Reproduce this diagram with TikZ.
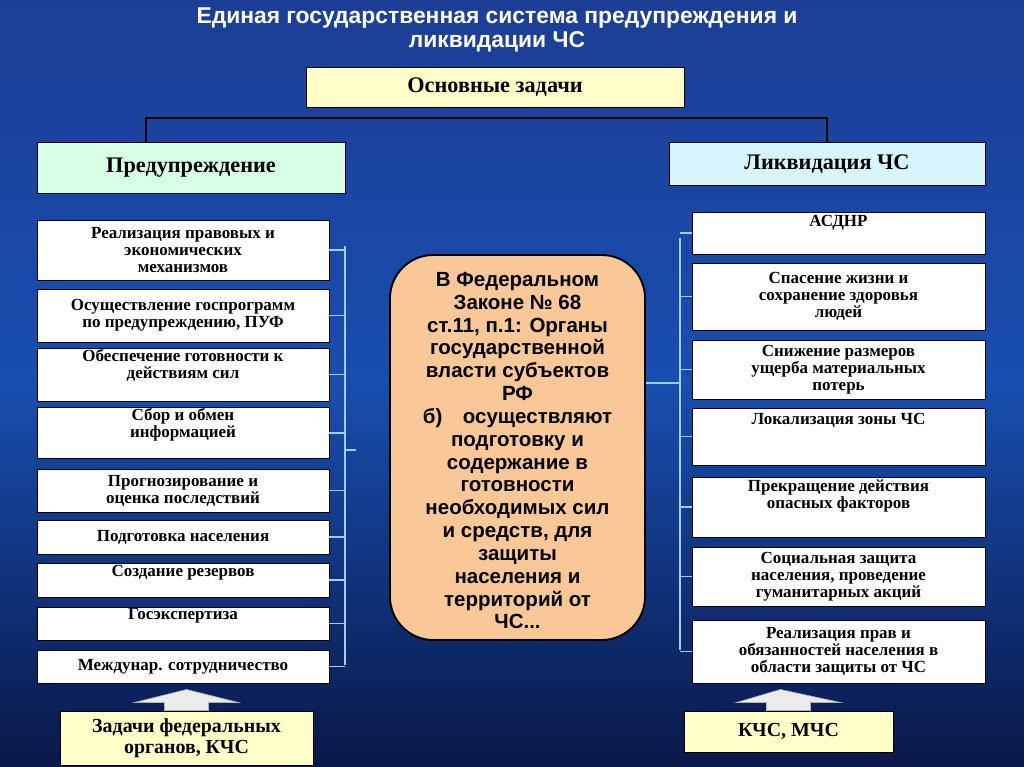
\documentclass[tikz,border=0pt]{standalone}
\usepackage{fontspec}
\setmainfont{Liberation Serif}
\newfontfamily\titlefont{Liberation Sans}
\usetikzlibrary{positioning,calc}
\definecolor{bgtop}{RGB}{28,62,150}
\definecolor{bgmid}{RGB}{24,78,175}
\definecolor{bgbot}{RGB}{10,24,72}
\definecolor{note}{RGB}{255,255,200}
\definecolor{mint}{RGB}{215,255,230}
\definecolor{cyanbox}{RGB}{215,245,255}
\definecolor{peach}{RGB}{250,200,150}
\definecolor{wire}{RGB}{160,205,240}
\tikzset{
    taskbox/.style={draw=black, fill=white, line width=0.6pt, minimum width=8.76cm,
        align=center, inner sep=1pt, font=\bfseries\fontsize{14.5}{14.5}\selectfont},
    headbox/.style={draw=black, line width=0.8pt, align=center, font=\bfseries\fontsize{19}{20}\selectfont},
    wirestyle/.style={draw=wire, line width=1pt},
    uparrow/.style={draw=gray!60, fill=white!85!gray, line width=0.6pt},
}
\begin{document}
\begin{tikzpicture}[x=0.03cm,y=-0.03cm]
	\shade[top color=bgtop, bottom color=bgbot, middle color=bgmid] (0,0) rectangle (1024,767);
	\useasboundingbox (0,0) rectangle (1024,767);
	% title
	\node[text=white, align=center, font=\titlefont\bfseries\fontsize{19.5}{20}\selectfont] (title) at (497,30)
		{Единая государственная система предупреждения и\\ликвидации ЧС};
	% heads
	\node[headbox, fill=note, minimum width=11.34cm, minimum height=1.2cm] (main) at (495,87) {Основные задачи};
	\node[headbox, fill=mint, minimum width=9.24cm, minimum height=1.53cm] (prev) at (191,168) {Предупреждение};
	\node[headbox, fill=cyanbox, minimum width=9.48cm, minimum height=1.29cm] (liq) at (827,164) {Ликвидация ЧС};
	\coordinate (lt) at (146,118);
	\coordinate (rt) at (827,118);
	\draw[line width=1pt, black] (prev.north -| lt) -- (lt) -- (rt) -- (liq.north);
	% left column
	\foreach \name/\top/\bot/\txt in {
		l1/220/280/{Реализация правовых и\\экономических\\механизмов},
		l2/289/342/{Осуществление госпрограмм\\по предупреждению, ПУФ},
		l3/349/400/{Обеспечение готовности к\\действиям сил\\[4pt]},
		l4/409/457/{Сбор и обмен\\информацией\\[2pt]},
		l5/469/512/{Прогнозирование и\\оценка последствий},
		l6/520/554/{Подготовка населения},
		l7/563/597/{Создание резервов\\[1pt]},
		l8/607/640/{Госэкспертиза\\[2pt]},
		l9/650/683/{Междунар. сотрудничество}}
	{
		\node[taskbox, minimum height={(\bot-\top)*0.03cm}] (\name) at (183,{(\top+\bot)/2}) {\txt};
		\draw[wirestyle] (\name.east) -- ++(16,0);
	}
	\coordinate (lb) at (345,246);
	\draw[wirestyle] (lb) -- (345,665) (345,450) -- (356,450);
	% right column
	\foreach \name/\top/\bot/\txt in {
		r1/212/254/{АСДНР\\[6pt]},
		r2/263/330/{Спасение жизни и\\сохранение здоровья\\людей},
		r3/340/399/{Снижение размеров\\ущерба материальных\\потерь},
		r4/408/465/{Локализация зоны ЧС\\[16pt]},
		r5/477/537/{Прекращение действия\\опасных факторов\\[8pt]},
		r6/547/606/{Социальная защита\\населения, проведение\\гуманитарных акций},
		r7/620/683/{Реализация прав и\\обязанностей населения в\\области защиты от ЧС}}
	{
		\node[taskbox, minimum width=8.79cm, minimum height={(\bot-\top)*0.03cm}] (\name) at (838.5,{(\top+\bot)/2}) {\txt};
		\draw[wirestyle] (\name.west) -- ++(-12,0);
	}
	\draw[wirestyle] (680,238) -- (680,650);
	% center
	\node[draw=black, line width=1.6pt, fill=peach, rounded corners=1.3cm, minimum width=7.65cm,
		minimum height=11.55cm, align=center, font=\titlefont\bfseries\fontsize{17.5}{19.5}\selectfont] (law) at (517.5,447.5)
		{\\[-2pt]В Федеральном\\Законе № 68\\ст.11, п.1: Органы\\государственной\\власти субъектов\\РФ\\б)\quad осуществляют\\подготовку и\\содержание в\\готовности\\необходимых сил\\и средств, для\\защиты\\населения и\\территорий от\\ЧС...};
	\draw[wirestyle] (law.east |- 0,383) -- (680,383);
	% bottom
	\node[headbox, fill=note, minimum width=7.59cm, minimum height=1.62cm, font=\bfseries\fontsize{17}{18}\selectfont] (fed) at (186.5,738) {Задачи федеральных\\органов, КЧС};
	\node[headbox, fill=note, minimum width=6.27cm, minimum height=1.23cm, font=\bfseries\fontsize{17}{18}\selectfont] (mchs) at (788.5,731.5) {КЧС, МЧС};
	\draw[uparrow] ($(fed.north)+(-22,0)$) -- ++(0,-8) -- ++(-30,0) -- ($(fed.north)+(0,-21)$)
		-- ($(fed.north)+(52,-8)$) -- ++(-30,0) -- ++(0,8) -- cycle;
	\draw[uparrow] ($(mchs.north)+(-22,0)$) -- ++(0,-8) -- ++(-30,0) -- ($(mchs.north)+(-8,-21)$)
		-- ($(mchs.north)+(52,-8)$) -- ++(-30,0) -- ++(0,8) -- cycle;
\end{tikzpicture}
\end{document}
